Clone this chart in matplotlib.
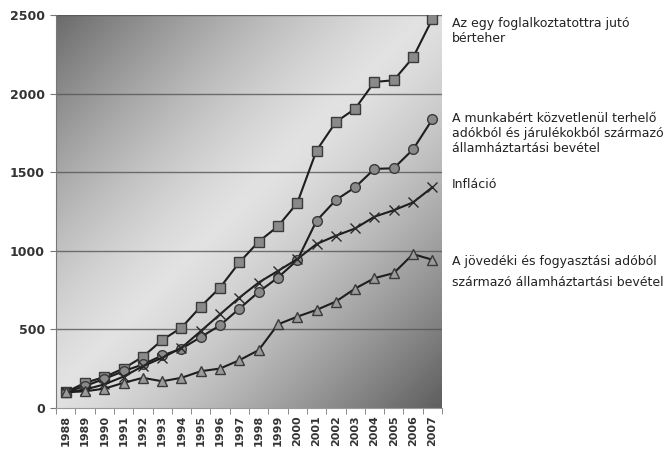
import numpy as np
import matplotlib
matplotlib.use("Agg")
import matplotlib.pyplot as plt
from matplotlib.colors import LinearSegmentedColormap

years = [str(y) for y in range(1988, 2008)]
berteher = [100, 160, 197, 251, 326, 432, 511, 645, 766, 926, 1058, 1156, 1304, 1638, 1819, 1904, 2074, 2085, 2230, 2474]
munkaber = [100, 140, 185, 234, 277, 334, 377, 451, 526, 632, 738, 830, 940, 1191, 1323, 1404, 1521, 1525, 1645, 1836]
inflacio = [100, 117, 150, 200, 266, 319, 383, 489, 596, 702, 798, 872, 947, 1043, 1096, 1142, 1217, 1258, 1308, 1404]
jovedeki = [100, 106, 123, 160, 192, 170, 192, 234, 251, 304, 368, 532, 581, 624, 677, 760, 826, 858, 979, 943]
label_lines = [
    "Az egy foglalkoztatottra jutó",
    "bérteher",
    "A munkabért közvetlenül terhelő",
    "adókból és járulékokból származó",
    "államháztartási bevétel",
    "Infláció",
    "A jövedéki és fogyasztási adóból",
    "származó államháztartási bevétel",
]
label_y_px = [23, 39, 118, 133, 149, 185, 262, 283]
yticks = [0, 500, 1000, 1500, 2000, 2500]

W, H = 667, 449
fig = plt.figure(figsize=(W / 100, H / 100), dpi=100)
ax = fig.add_axes([56 / W, 1 - 408 / H, (442 - 56) / W, (408 - 15) / H])

# gradient background
n = 300
xx, yy = np.meshgrid(np.linspace(0, 1, n), np.linspace(1, 0, n))
u = (xx + (1 - yy)) / 2  # 0 top-left, 1 bottom-right
v = np.abs(u - 0.48) / 0.52
vals = 1 - v ** 1.3
cmap = LinearSegmentedColormap.from_list("g", ["#5e5e5e", "#e2e2e2"])
ax.imshow(vals, extent=[-0.5, 19.5, 0, 2500], aspect="auto", cmap=cmap,
          origin="upper", zorder=0, interpolation="bilinear")

x = np.arange(len(years))
line_kw = dict(color="#1e1e1e", lw=1.5, zorder=3)
ax.plot(x, berteher, marker="s", ms=7, mfc="#8a8a8a", mec="#3a3a3a", mew=1, **line_kw)
ax.plot(x, munkaber, marker="o", ms=7, mfc="#8a8a8a", mec="#3a3a3a", mew=1, **line_kw)
ax.plot(x, inflacio, marker="x", ms=7, mec="#2a2a2a", mew=1, **line_kw)
ax.plot(x, jovedeki, marker="^", ms=7, mfc="#9a9a9a", mec="#3a3a3a", mew=1, **line_kw)

for yv in yticks[1:]:
    ax.axhline(yv, color="#555555", lw=1, zorder=1, alpha=0.8)

ax.set_xlim(-0.5, 19.5)
ax.set_ylim(0, 2500)
ax.set_yticks(yticks)
ax.set_yticklabels([str(t) for t in yticks], fontsize=9, color="#333333", fontweight="bold")
ax.set_xticks(x)
ax.set_xticklabels(years, rotation=90, fontsize=8, color="#333333", fontweight="bold")
ax.tick_params(axis="x", which="major", length=0, pad=5)
ax.set_xticks(np.arange(-0.5, 20, 1), minor=True)
ax.tick_params(axis="x", which="minor", length=4, color="#777777")
ax.tick_params(axis="y", length=4, color="#777777", pad=4)
for s in ["top", "right"]:
    ax.spines[s].set_visible(False)
ax.spines["left"].set_color("#777777")
ax.spines["bottom"].set_color("#999999")

# right-side labels
for t, ty in zip(label_lines, label_y_px):
    fig.text(452 / W, 1 - ty / H, t, fontsize=9, color="#222222",
             va="center", ha="left")

fig.savefig("out.png", dpi=100)
